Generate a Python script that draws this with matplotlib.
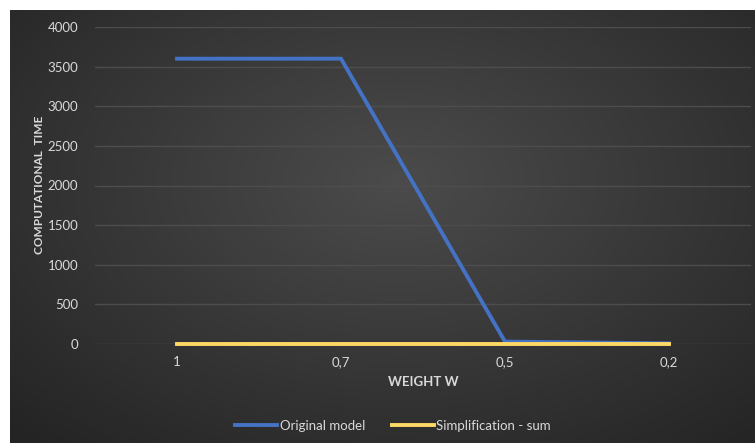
import numpy as np
import matplotlib.pyplot as plt

plt.rcParams['font.family'] = ['Lato', 'DejaVu Sans']

# Data
weights = ['1', '0,7', '0,5', '0,2']
original_model = [3600, 3600, 30, 8]
simplification_sum = [5, 5, 5, 5]

W, H = 755, 443
fig = plt.figure(figsize=(W / 100, H / 100), dpi=100)
fig.patch.set_facecolor('white')

# Dark radial gradient background
bg = fig.add_axes([10 / W, 0, (W - 10) / W, (H - 10) / H])
bg.set_axis_off()
yy, xx = np.mgrid[0:1:300j, 0:1:500j]
r = np.sqrt(((xx - 0.52) * 1.1) ** 2 + ((yy - 0.40) * 1.0) ** 2)
shade = np.clip(0.295 - 0.19 * r, 0.145, 0.30)
bg.imshow(np.dstack([shade] * 3), aspect='auto', extent=[0, 1, 0, 1],
          interpolation='bilinear')

ax = fig.add_axes([95 / W, 1 - 344 / H, (751 - 95) / W, (344 - 27) / H])
ax.patch.set_alpha(0)
x = np.arange(len(weights))
ax.plot(x, original_model, color='#4472C4', lw=2.8, label='Original model',
        solid_joinstyle='miter', zorder=3, clip_on=False)
ax.plot(x, simplification_sum, color='#FFD966', lw=2.8,
        label='Simplification - sum', zorder=4, clip_on=False)

ax.set_xlim(-0.5, 3.5)
ax.set_ylim(0, 4000)
ax.set_yticks(range(0, 4001, 500))
ax.set_xticks(x)
ax.set_xticklabels(weights)
ax.grid(axis='y', color='#4d4d4d', lw=1)
ax.set_axisbelow(True)
for s in ax.spines.values():
    s.set_visible(False)
ax.tick_params(length=0, colors='#d9d9d9', labelsize=9.5)
ax.tick_params(axis='x', pad=9)
ax.tick_params(axis='y', pad=12)

fig.text(423 / W, 1 - 382 / H, 'WEIGHT W', color='#d9d9d9', fontsize=9.5,
         fontweight='bold', ha='center', va='center')
fig.text(40 / W, 1 - 185 / H, 'COMPUTATIONAL  TIME', color='#d9d9d9',
         fontsize=8.5, fontweight='bold', ha='center', va='center', rotation=90)

leg = fig.legend(loc='center', bbox_to_anchor=(393 / W, 1 - 426 / H), ncol=2,
                 frameon=False, fontsize=9.5, labelcolor='#d9d9d9',
                 handlelength=3.2, handletextpad=0.2, columnspacing=2.0)

fig.savefig('out.png', dpi=100)
